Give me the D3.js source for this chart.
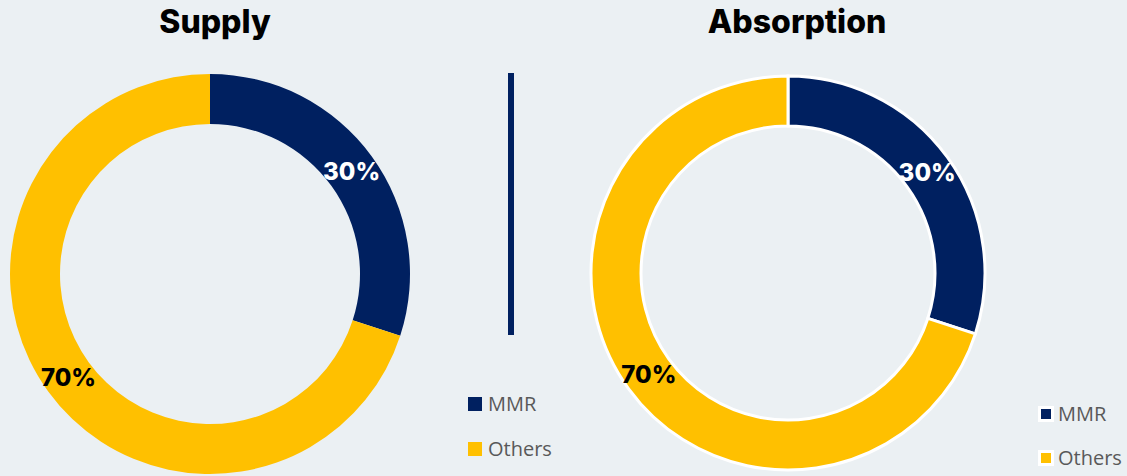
<!DOCTYPE html>
<html>
<head>
<meta charset="utf-8">
<script src="https://cdn.jsdelivr.net/npm/d3@7"></script>
<style>
  html, body { margin: 0; padding: 0; background: #ebf0f3; }
  svg { display: block; }
</style>
</head>
<body>
<svg id="chart" width="1127" height="476"></svg>
<script>
// data
var categories = ['MMR', 'Others'];
var supplyValues = [30, 70];
var absorptionValues = [30, 70];
var colors = ['#002060', '#ffc000'];
var labelColors = ['#ffffff', '#000000'];

var svg = d3.select('#chart');
var color = d3.scaleOrdinal().domain(categories).range(colors);
var labelColor = d3.scaleOrdinal().domain(categories).range(labelColors);

var pie = d3.pie().sort(null).value(function (d) { return d.value; });

function donut(values, cx, cy, outer, inner, title, titleX, stroke) {
  var data = categories.map(function (c, i) { return { cat: c, value: values[i] }; });
  var arc = d3.arc().innerRadius(inner).outerRadius(outer);
  var labelArc = d3.arc().innerRadius((inner + outer) / 2).outerRadius((inner + outer) / 2);

  var g = svg.append('g').attr('transform', 'translate(' + cx + ',' + cy + ')');
  g.selectAll('path')
    .data(pie(data))
    .enter().append('path')
    .attr('d', arc)
    .attr('fill', function (d) { return color(d.data.cat); })
    .attr('stroke', stroke ? '#ffffff' : 'none')
    .attr('stroke-width', stroke ? 3 : 0);

  g.selectAll('text')
    .data(pie(data))
    .enter().append('text')
    .attr('transform', function (d) { return 'translate(' + labelArc.centroid(d) + ')'; })
    .attr('text-anchor', 'middle')
    .attr('dy', '0.36em')
    .style('font-family', 'Inter, "Open Sans", sans-serif')
    .style('font-weight', 800)
    .style('font-size', '24px')
    .attr('fill', function (d) { return labelColor(d.data.cat); })
    .text(function (d) { return d.data.value + '%'; });

  svg.append('text')
    .attr('x', titleX)
    .attr('y', 33)
    .attr('text-anchor', 'middle')
    .style('font-family', 'Inter, "Open Sans", sans-serif')
    .style('font-weight', 800)
    .style('font-size', '32px')
    .attr('fill', '#000')
    .text(title);
}

function legend(x, y, gap, boxed) {
  var lg = svg.append('g').attr('transform', 'translate(' + x + ',' + y + ')');
  var items = lg.selectAll('g')
    .data(categories)
    .enter().append('g')
    .attr('transform', function (d, i) { return 'translate(0,' + (i * gap) + ')'; });
  if (boxed) {
    items.append('rect')
      .attr('x', 0).attr('y', -8).attr('width', 16).attr('height', 16)
      .attr('fill', '#ffffff');
    items.append('rect')
      .attr('x', 3).attr('y', -5).attr('width', 10).attr('height', 10)
      .attr('fill', function (d) { return color(d); });
  } else {
    items.append('rect')
      .attr('x', 0).attr('y', -7).attr('width', 14).attr('height', 14)
      .attr('fill', function (d) { return color(d); });
  }
  items.append('text')
    .attr('x', 20)
    .attr('dy', '0.35em')
    .style('font-family', '"Open Sans", sans-serif')
    .style('font-size', '20px')
    .attr('fill', '#595959')
    .text(function (d) { return d; });
}

donut(supplyValues, 210, 274, 200, 150, 'Supply', 215, false);
donut(absorptionValues, 788, 273, 197, 147, 'Absorption', 797, true);

// divider
svg.append('line')
  .attr('x1', 511).attr('x2', 511)
  .attr('y1', 73).attr('y2', 335)
  .attr('stroke', '#002060')
  .attr('stroke-width', 6);

legend(468, 404, 45, false);
legend(1038, 414, 44, true);
</script>
</body>
</html>
